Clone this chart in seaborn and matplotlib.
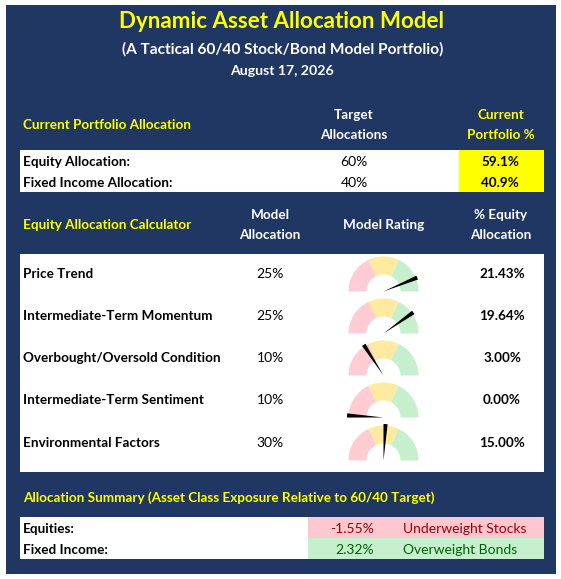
import numpy as np
import matplotlib
matplotlib.use("Agg")
import matplotlib.pyplot as plt
from matplotlib.patches import Rectangle, Wedge
import seaborn as sns

# chart data
title = "Dynamic Asset Allocation Model"
subtitle = "(A Tactical 60/40 Stock/Bond Model Portfolio)"
date_text = "August 17, 2026"

alloc_labels = ["Equity Allocation:", "Fixed Income Allocation:"]
target_alloc = [60, 40]
current_alloc = [59.1, 40.9]

factors = ["Price Trend", "Intermediate-Term Momentum", "Overbought/Oversold Condition",
           "Intermediate-Term Sentiment", "Environmental Factors"]
model_alloc = [25, 25, 10, 10, 30]
equity_alloc = [21.43, 19.64, 3.00, 0.00, 15.00]

summary_labels = ["Equities:", "Fixed Income:"]
summary_diff = [-1.55, 2.32]
summary_text = ["Underweight Stocks", "Overweight Bonds"]

# gauge zones as fraction of the half circle (red, yellow, green)
zone_edges = [0.0, 0.36, 0.645, 1.0]

NAVY = "#203764"
YELLOW = "#FFFF00"
zone_colors = ["#FFCCD3", "#FFEA9F", "#C6EFCE"]

sns.set_theme(style="white")
plt.rcParams["font.family"] = ["Lato", "DejaVu Sans"]

W, H = 561, 579
fig = plt.figure(figsize=(W / 100, H / 100), dpi=100)
ax = fig.add_axes([0, 0, 1, 1])
ax.set_xlim(0, W)
ax.set_ylim(H, 0)
ax.axis("off")


def box(x0, y0, x1, y1, color):
    ax.add_patch(Rectangle((x0, y0), x1 - x0, y1 - y0, facecolor=color, edgecolor="none"))


def txt(x, y, s, size=None, color="black", weight="bold", ha="left"):
    if size is None:
        size = 9.75 if weight == "bold" else 10
    ax.text(x, y + 1, s, fontsize=size, color=color, fontweight=weight, ha=ha, va="center")


# background panels
box(6, 5, 556, 574, NAVY)
box(20, 150, 544, 192, "white")
box(459, 150, 544, 192, YELLOW)
box(20, 254, 544, 472, "white")
box(20, 517, 544, 559, "white")
box(308, 517, 544, 538, "#FFC7CE")
box(308, 538, 544, 559, "#C6EFCE")

# header
txt(282, 21, title, size=16.1, color=YELLOW, ha="center")
txt(283, 48, subtitle, size=11.1, color="white", ha="center")
txt(282, 70, date_text, size=10.2, color="white", ha="center")

# current portfolio allocation
txt(23, 124, "Current Portfolio Allocation", color=YELLOW)
txt(354, 114, "Target", color="white", ha="center")
txt(354, 134, "Allocations", color="white", ha="center")
txt(501, 114, "Current", color=YELLOW, ha="center")
txt(501, 134, "Portfolio %", color=YELLOW, ha="center")
for i, lab in enumerate(alloc_labels):
    y = 161 + 21 * i
    txt(23, y, lab)
    txt(354, y, f"{target_alloc[i]}%", weight="normal", ha="center")
    txt(500, y, f"{current_alloc[i]:.1f}%", ha="center")

# equity allocation calculator
txt(23, 224, "Equity Allocation Calculator", color=YELLOW)
txt(270, 214, "Model", color="white", ha="center")
txt(270, 234, "Allocation", color="white", ha="center")
txt(384, 224, "Model Rating", color="white", ha="center")
txt(501, 214, "% Equity", color="white", ha="center")
txt(501, 234, "Allocation", color="white", ha="center")

row_y = [273, 315, 357, 399, 442]
gx, r_out, r_in = 383.5, 35, 17
for i, f in enumerate(factors):
    y = row_y[i]
    txt(23, y, f)
    txt(270, y, f"{model_alloc[i]}%", weight="normal", ha="center")
    txt(502, y, f"{equity_alloc[i]:.2f}%", ha="center")
    gy = y + 18.5
    # zones (visual angles measured counter-clockwise; y axis is flipped)
    for k in range(3):
        a1 = 180 - zone_edges[k + 1] * 180
        a2 = 180 - zone_edges[k] * 180
        ax.add_patch(Wedge((gx, gy), r_out, -a2, -a1, width=r_out - r_in,
                           facecolor=zone_colors[k], edgecolor="none"))
    # needle
    a = 180 - equity_alloc[i] / model_alloc[i] * 180
    ax.add_patch(Wedge((gx, gy), r_out + 1.5, -a, -(a - 6.5), facecolor="black", edgecolor="none"))

# allocation summary
txt(23, 497, "Allocation Summary (Asset Class Exposure Relative to 60/40 Target)", color=YELLOW)
text_cols = ["#9C0006", "#006100"]
for i, lab in enumerate(summary_labels):
    y = 528 + 21 * i
    txt(23, y, lab)
    txt(374, y, f"{summary_diff[i]:.2f}%", color=text_cols[i], weight="normal", ha="right")
    txt(403, y, summary_text[i], color=text_cols[i], weight="normal")

fig.savefig("out.png", dpi=100)
